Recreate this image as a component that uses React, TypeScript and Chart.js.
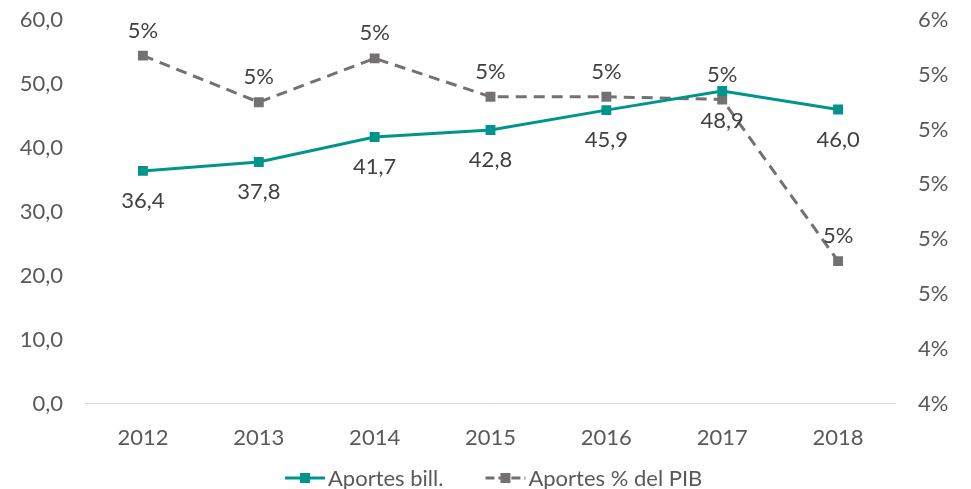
import React, { useEffect, useRef } from "react";
import { Chart, registerables } from "chart.js";

Chart.register(...registerables);

const categories = ["2012", "2013", "2014", "2015", "2016", "2017", "2018"];
const aportesBill = [36.4, 37.8, 41.7, 42.8, 45.9, 48.9, 46.0];
const aportesPib = [5.47, 5.3, 5.46, 5.32, 5.32, 5.31, 4.72];
const leftTicks = { min: 0, max: 60, step: 10 };
const rightTicks = { min: 4.2, max: 5.6, step: 0.2 };

const TEAL = "#00958C";
const GRAY = "#767171";
const TEXT = "#595959";
const LABEL = "#404040";
const FONT = "Lato";
const FS = 22;

function drawIcon(ctx: CanvasRenderingContext2D, x: number, y: number, color: string, dashed: boolean) {
  ctx.save();
  ctx.strokeStyle = color;
  ctx.lineWidth = 3;
  if (dashed) ctx.setLineDash([9, 4]);
  ctx.beginPath();
  ctx.moveTo(x, y);
  ctx.lineTo(x + 40, y);
  ctx.stroke();
  ctx.fillStyle = color;
  ctx.fillRect(x + 15, y - 5, 10, 10);
  ctx.restore();
}

const legendPlugin = {
  id: "customLegend",
  afterDraw(chart: any) {
    const ctx = chart.ctx;
    ctx.save();
    ctx.font = `${FS}px ${FONT}`;
    ctx.textBaseline = "middle";
    ctx.textAlign = "left";
    const items = chart.data.datasets.map((ds: any, i: number) => ({
      label: ds.label,
      color: ds.borderColor,
      dashed: i === 1,
      w: ctx.measureText(ds.label).width,
    }));
    const gap = 3;
    const spacing = 42;
    let x = 285;
    const y = 478;
    items.forEach((it: any) => {
      drawIcon(ctx, x, y, it.color, it.dashed);
      ctx.fillStyle = TEXT;
      ctx.fillText(it.label, x + 40 + gap, y + 1);
      x += 40 + gap + it.w + spacing;
    });
    ctx.restore();
  },
};

const dataLabelPlugin = {
  id: "dataLabels",
  afterDatasetsDraw(chart: any) {
    const ctx = chart.ctx;
    ctx.save();
    ctx.font = `${FS}px ${FONT}`;
    ctx.fillStyle = LABEL;
    ctx.textAlign = "center";
    ctx.textBaseline = "middle";
    chart.data.datasets.forEach((ds: any, i: number) => {
      const meta = chart.getDatasetMeta(i);
      meta.data.forEach((pt: any, j: number) => {
        const v = ds.data[j];
        const text = i === 0 ? v.toFixed(1).replace(".", ",") : Math.round(v) + "%";
        const off = i === 0 ? 30 : -25;
        ctx.fillText(text, pt.x, pt.y + off);
      });
    });
    ctx.restore();
  },
};

export default function App() {
  const ref = useRef<HTMLCanvasElement>(null);
  useEffect(() => {
    const chart = new Chart(ref.current!, {
      type: "line",
      data: {
        labels: categories,
        datasets: [
          {
            label: "Aportes bill.",
            data: aportesBill,
            borderColor: TEAL,
            backgroundColor: TEAL,
            borderWidth: 3,
            pointStyle: "rect",
            pointRadius: 7,
            pointBorderWidth: 0,
            yAxisID: "y",
            tension: 0,
          },
          {
            label: "Aportes % del PIB",
            data: aportesPib,
            borderColor: GRAY,
            backgroundColor: GRAY,
            borderWidth: 3,
            borderDash: [11, 7],
            pointStyle: "rect",
            pointRadius: 7,
            pointBorderWidth: 0,
            yAxisID: "y1",
            tension: 0,
          },
        ],
      },
      options: {
        animation: false,
        responsive: true,
        maintainAspectRatio: false,
        layout: { padding: { top: 20, left: 0, right: 0, bottom: 25 } },
        plugins: {
          tooltip: { enabled: false },
          legend: { display: false },
        },
        scales: {
          x: {
            offset: true,
            grid: { display: false },
            border: { display: false },
            ticks: { color: TEXT, font: { family: FONT, size: FS }, padding: 13 },
          },
          y: {
            position: "left",
            min: leftTicks.min,
            max: leftTicks.max,
            border: { display: false },
            grid: {
              drawTicks: false,
              color: (c: any) => (c.tick && c.tick.value === 0 ? "#D9D9D9" : "rgba(0,0,0,0)"),
            },
            afterFit: (s: any) => {
              s.width = 85;
              s.paddingTop = 0;
              s.paddingBottom = 0;
            },
            ticks: {
              stepSize: leftTicks.step,
              color: TEXT,
              padding: 22,
              font: { family: FONT, size: FS },
              callback: (v: any) => Number(v).toFixed(1).replace(".", ","),
            },
          },
          y1: {
            position: "right",
            min: rightTicks.min,
            max: rightTicks.max,
            border: { display: false },
            grid: { display: false, drawTicks: false },
            afterFit: (s: any) => {
              s.width = 75;
              s.paddingTop = 0;
              s.paddingBottom = 0;
            },
            ticks: {
              stepSize: rightTicks.step,
              color: TEXT,
              padding: 22,
              font: { family: FONT, size: FS },
              callback: (v: any) => Math.round(Number(v)) + "%",
            },
          },
        },
      },
      plugins: [dataLabelPlugin, legendPlugin],
    } as any);
    return () => chart.destroy();
  }, []);
  return (
    <div style={{ position: "fixed", left: 0, top: 0, width: 971, height: 489, background: "#fff" }}>
      <canvas ref={ref} />
    </div>
  );
}
